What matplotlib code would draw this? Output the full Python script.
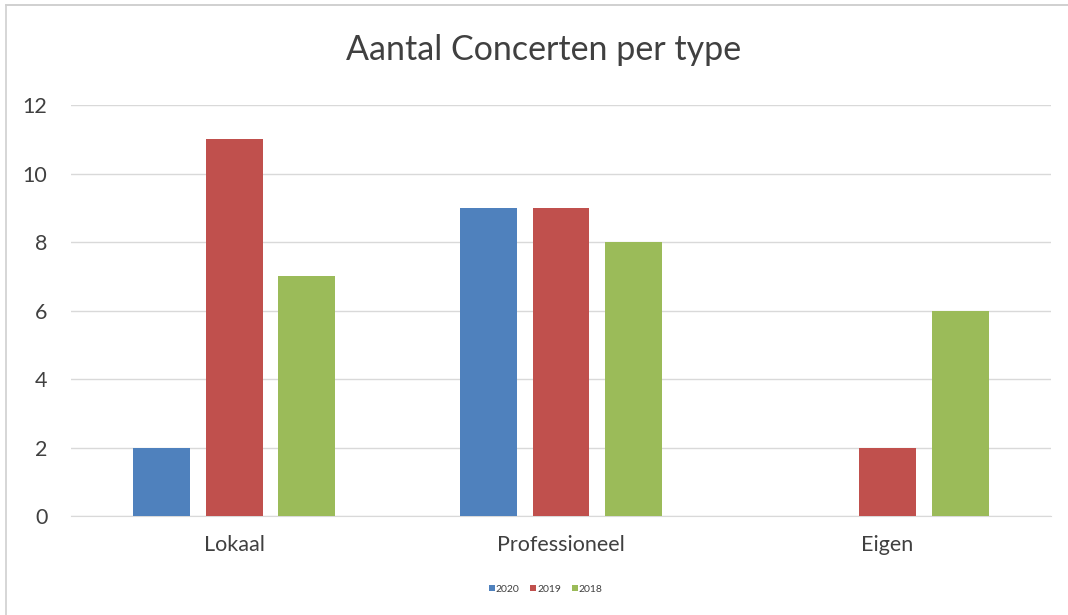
# grouped bar chart: number of concerts per type
import numpy as np
import matplotlib.pyplot as plt
from matplotlib.lines import Line2D

categories = ['Lokaal', 'Professioneel', 'Eigen']
years = ['2020', '2019', '2018']
counts_2020 = [2, 9, 0]
counts_2019 = [11, 9, 2]
counts_2018 = [7, 8, 6]
colors = ['#4F81BD', '#C0504D', '#9BBB59']

plt.rcParams['font.family'] = ['Lato', 'DejaVu Sans']
text_color = '#404040'

fig = plt.figure(figsize=(10.68, 6.15), dpi=100)
ax = fig.add_axes([0.0665, 0.161, 0.9175, 0.668])

x = np.arange(len(categories))
width = 0.174
step = 0.222
for i, (vals, year) in enumerate(zip([counts_2020, counts_2019, counts_2018], years)):
    ax.bar(x + (i - 1) * step, vals, width, color=colors[i], label=year, zorder=3)

ax.set_xlim(-0.5, 2.5)
ax.set_ylim(0, 12)
ax.set_yticks(range(0, 13, 2))
ax.yaxis.grid(True, color='#d9d9d9', linewidth=1, zorder=0)
for s in ['top', 'right', 'left']:
    ax.spines[s].set_visible(False)
ax.spines['bottom'].set_color('#d9d9d9')
ax.tick_params(axis='both', length=0, labelsize=15.5, labelcolor=text_color)
ax.tick_params(axis='y', pad=17)
ax.tick_params(axis='x', pad=14)
ax.set_xticks(x)
ax.set_xticklabels(categories)

fig.text(0.509, 0.919, 'Aantal Concerten per type', ha='center', va='center',
         fontsize=24.5, color=text_color)

fig.legend(loc='center', bbox_to_anchor=(0.511, 0.042), ncol=3, frameon=False,
           fontsize=7.5, handlelength=0.6, handleheight=0.6, handletextpad=0.1,
           columnspacing=1.0, labelcolor=text_color)

# chart border (top and left edges visible)
fig.add_artist(Line2D([0.006, 1.0], [0.992, 0.992], color='#c8c8c8', linewidth=1.2))
fig.add_artist(Line2D([0.006, 0.006], [0.0, 0.992], color='#d0d0d0', linewidth=1.2))

fig.savefig('out.png', dpi=100)
